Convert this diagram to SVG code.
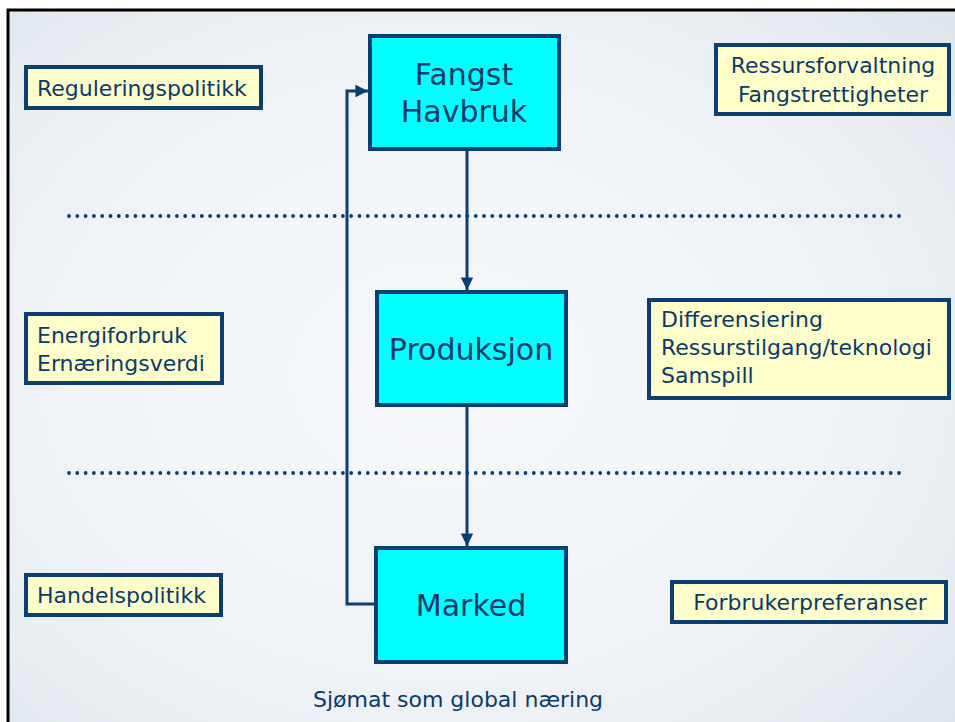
<svg xmlns="http://www.w3.org/2000/svg" width="955" height="722" viewBox="0 0 955 722">
<defs>
<radialGradient id="bg" cx="0.45" cy="0.5" r="0.75">
<stop offset="0" stop-color="#f7f9fc"/>
<stop offset="0.6" stop-color="#eef2f6"/>
<stop offset="1" stop-color="#dde5ea"/>
</radialGradient>
<marker id="ah" viewBox="0 0 10 10" refX="10" refY="5" markerWidth="4.2" markerHeight="4.2" orient="auto" markerUnits="strokeWidth">
<path d="M0,0 L10,5 L0,10 Z" fill="#0b3e71"/>
</marker>
<style>
.main{fill:#00ffff;stroke:#0b3e71;stroke-width:4}
.note{fill:#ffffcc;stroke:#0b3e71;stroke-width:4}
.t{font-family:"DejaVu Sans",sans-serif;fill:#0a3a6a}
.s{font-size:22px}
.b{font-size:30px}
.c{text-anchor:middle}
.conn{fill:none;stroke:#0b3e71;stroke-width:3}
.dot{stroke:#0b3e71;stroke-width:3.8;stroke-linecap:round;stroke-dasharray:0 8.3}
</style>
</defs>
<rect x="0" y="0" width="955" height="722" fill="#ffffff"/>
<rect x="8" y="10" width="960" height="730" fill="url(#bg)" stroke="#000000" stroke-width="3"/>
<g id="separators">
<line class="dot" x1="69" y1="216" x2="901" y2="216"/>
<line class="dot" x1="69" y1="473" x2="901" y2="473"/>
</g>
<g id="connectors">
<line class="conn" x1="467" y1="150" x2="467" y2="290" marker-end="url(#ah)"/>
<line class="conn" x1="467" y1="406" x2="467" y2="546" marker-end="url(#ah)"/>
<polyline class="conn" points="375,604 347,604 347,91 368,91" marker-end="url(#ah)"/>
</g>
<g id="fangst">
<rect class="main" x="370" y="36" width="189" height="113"/>
<text class="t b c" x="464" y="85">Fangst</text>
<text class="t b c" x="464" y="122">Havbruk</text>
</g>
<g id="produksjon">
<rect class="main" x="377" y="292" width="189" height="113"/>
<text class="t b c" x="471" y="360">Produksjon</text>
</g>
<g id="marked">
<rect class="main" x="376" y="548" width="190" height="114"/>
<text class="t b c" x="471" y="616">Marked</text>
</g>
<g id="reguleringspolitikk">
<rect class="note" x="26" y="67" width="235" height="41"/>
<text class="t s" x="37" y="96">Reguleringspolitikk</text>
</g>
<g id="ressursforvaltning">
<rect class="note" x="716" y="45" width="233" height="69"/>
<text class="t s c" x="833" y="73">Ressursforvaltning</text>
<text class="t s c" x="833" y="102">Fangstrettigheter</text>
</g>
<g id="energiforbruk">
<rect class="note" x="26" y="314" width="196" height="69"/>
<text class="t s" x="37" y="343">Energiforbruk</text>
<text class="t s" x="37" y="371">Ernæringsverdi</text>
</g>
<g id="differensiering">
<rect class="note" x="649" y="300" width="300" height="98"/>
<text class="t s" x="661" y="327">Differensiering</text>
<text class="t s" x="661" y="355">Ressurstilgang/teknologi</text>
<text class="t s" x="661" y="383">Samspill</text>
</g>
<g id="handelspolitikk">
<rect class="note" x="26" y="575" width="195" height="40"/>
<text class="t s" x="37" y="603">Handelspolitikk</text>
</g>
<g id="forbrukerpreferanser">
<rect class="note" x="672" y="582" width="274" height="40"/>
<text class="t s c" x="810" y="610">Forbrukerpreferanser</text>
</g>
<text class="t s c" x="458" y="707">Sjømat som global næring</text>
</svg>
